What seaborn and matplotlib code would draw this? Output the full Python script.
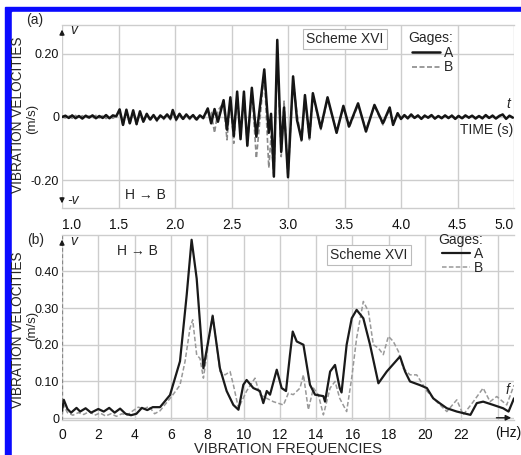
import numpy as np
import pandas as pd
import seaborn as sns
import matplotlib.pyplot as plt
from matplotlib.patches import Rectangle

# === DATA: panel (a), vibration velocities in time (m/s) ===
time_a = [1.00, 1.03, 1.06, 1.09, 1.12, 1.15, 1.18, 1.21, 1.24, 1.27, 1.30, 1.33, 1.36, 1.39, 1.42,
          1.45, 1.48, 1.51, 1.54, 1.57, 1.60, 1.63, 1.66, 1.69, 1.72, 1.75, 1.78, 1.81, 1.84, 1.87,
          1.90, 1.93, 1.96, 1.98, 2.01, 2.04, 2.07, 2.10, 2.13, 2.16, 2.19, 2.22, 2.25, 2.29, 2.32,
          2.35, 2.38, 2.43, 2.46, 2.49, 2.52, 2.55, 2.58, 2.61, 2.64, 2.68, 2.72, 2.79, 2.83, 2.85,
          2.875, 2.905, 2.94, 2.965, 3.00, 3.045, 3.08, 3.12, 3.15, 3.19, 3.22, 3.29, 3.35, 3.43, 3.49,
          3.54, 3.62, 3.69, 3.765, 3.84, 3.90, 3.93, 3.97, 4.00, 4.03, 4.06, 4.09, 4.12, 4.15, 4.18,
          4.21, 4.24, 4.27, 4.30, 4.33, 4.36, 4.39, 4.42, 4.45, 4.48, 4.51, 4.54, 4.57, 4.60, 4.63,
          4.66, 4.69, 4.72, 4.75, 4.78, 4.81, 4.84, 4.87, 4.90, 4.93, 4.96, 4.99]
vel_a_A = [0.000, 0.004, -0.003, 0.005, -0.004, 0.003, -0.005, 0.004, -0.002, 0.005, -0.004, 0.003, -0.003, 0.006, -0.004,
           0.005, 0.002, 0.024, -0.025, 0.023, -0.020, 0.021, -0.022, 0.018, -0.015, 0.010, -0.008, 0.006, -0.010, 0.005,
           -0.004, 0.008, -0.005, 0.022, -0.008, 0.010, -0.006, 0.008, -0.004, 0.006, -0.008, 0.005, -0.003, 0.027, -0.020,
           0.025, -0.015, 0.053, -0.040, 0.062, -0.060, 0.080, -0.070, 0.080, -0.090, 0.092, -0.062, 0.150, -0.050, 0.010,
           -0.188, 0.243, -0.110, 0.030, -0.190, 0.128, -0.010, -0.072, 0.069, -0.065, 0.075, -0.035, 0.062, -0.050, 0.035,
           -0.030, 0.043, -0.046, 0.038, -0.020, 0.030, -0.025, 0.012, -0.006, 0.006, -0.004, 0.008, -0.003, 0.005, -0.006,
           0.004, -0.002, 0.006, -0.005, 0.003, -0.004, 0.005, -0.003, 0.004, -0.006, 0.003, -0.004, 0.005, -0.002, 0.004,
           -0.005, 0.003, -0.004, 0.006, -0.003, 0.004, -0.005, 0.003, 0.008, -0.006, 0.004, -0.002]
vel_a_B = [0.000, -0.003, 0.004, -0.004, 0.005, -0.003, 0.004, -0.005, 0.003, -0.004, 0.005, -0.003, 0.004, -0.005, 0.003,
           -0.004, 0.003, 0.020, -0.028, 0.020, -0.024, 0.018, -0.025, 0.015, -0.018, 0.008, -0.012, 0.004, -0.014, 0.003,
           -0.008, 0.006, -0.009, 0.018, -0.012, 0.007, -0.010, 0.005, -0.008, 0.004, -0.012, 0.003, -0.006, 0.020, 0.015,
           -0.050, 0.020, 0.045, -0.072, 0.055, -0.083, 0.070, -0.060, 0.075, -0.093, 0.085, -0.130, 0.140, -0.160, -0.060,
           -0.193, 0.200, -0.125, 0.050, -0.193, 0.120, 0.010, -0.080, 0.060, -0.072, 0.070, -0.040, 0.055, -0.045, 0.030,
           -0.035, 0.038, -0.040, 0.035, -0.025, 0.025, -0.020, 0.010, -0.008, 0.004, -0.006, 0.005, -0.005, 0.003, -0.004,
           0.006, -0.004, 0.003, -0.006, 0.005, -0.002, 0.003, -0.005, 0.006, -0.003, 0.005, -0.006, 0.003, -0.004, 0.006,
           -0.003, 0.005, -0.006, 0.004, -0.005, 0.006, -0.003, 0.005, 0.006, -0.004, 0.003, -0.004]

# === DATA: panel (b), spectra (m/s) ===
freq_A = [0.0, 0.1, 0.3, 0.5, 0.8, 1.0, 1.3, 1.6, 2.0, 2.3, 2.6, 2.9, 3.2, 3.5, 3.8, 4.1, 4.4, 4.7, 5.0, 5.4,
          5.95, 6.5, 6.87, 7.14, 7.42, 7.79, 8.3, 8.7, 9.07, 9.44, 9.72, 9.99, 10.17, 10.54, 10.9, 11.09,
          11.28, 11.46, 11.83, 12.1, 12.34, 12.56, 12.71, 12.93, 13.3, 13.66, 13.94, 14.4, 14.49, 14.77,
          15.04, 15.3, 15.4, 15.68, 15.96, 16.23, 16.6, 16.97, 17.43, 17.89, 18.62, 18.9, 19.17, 19.72,
          20.1, 20.45, 20.8, 21.2, 21.75, 22.5, 22.85, 23.2, 23.76, 24.3, 24.6, 24.9]
spec_A = [0.020, 0.050, 0.025, 0.015, 0.028, 0.018, 0.027, 0.015, 0.025, 0.018, 0.028, 0.015, 0.026, 0.012,
          0.008, 0.012, 0.028, 0.022, 0.030, 0.030, 0.063, 0.155, 0.336, 0.486, 0.380, 0.136, 0.278, 0.136,
          0.074, 0.036, 0.023, 0.091, 0.104, 0.082, 0.074, 0.041, 0.074, 0.064, 0.132, 0.082, 0.074, 0.173,
          0.236, 0.209, 0.200, 0.091, 0.064, 0.060, 0.045, 0.127, 0.145, 0.082, 0.070, 0.200, 0.272, 0.295,
          0.272, 0.200, 0.095, 0.127, 0.168, 0.127, 0.100, 0.090, 0.082, 0.054, 0.041, 0.027, 0.018, 0.009,
          0.041, 0.045, 0.036, 0.027, 0.018, 0.054]
freq_B = [0.0, 0.1, 0.3, 0.6, 0.9, 1.2, 1.5, 1.8, 2.1, 2.4, 2.7, 3.0, 3.3, 3.6, 3.9, 4.2, 4.5, 4.8, 5.1, 5.4,
          6.1, 6.5, 6.78, 7.05, 7.2, 7.42, 7.6, 7.79, 8.3, 8.7, 8.98, 9.26, 9.44, 9.72, 10.17, 10.63, 10.9,
          11.28, 11.64, 12.2, 12.47, 12.74, 13.11, 13.3, 13.57, 13.85, 14.12, 14.4, 14.77, 15.04, 15.3,
          15.68, 15.96, 16.23, 16.6, 16.88, 17.15, 17.43, 17.7, 17.98, 18.25, 18.53, 18.8, 19.17, 19.54,
          20.1, 20.64, 21.2, 21.75, 22.1, 22.66, 23.2, 23.58, 23.95, 24.5, 24.9]
spec_B = [0.010, 0.035, 0.015, 0.008, 0.015, 0.010, 0.018, 0.008, 0.014, 0.006, 0.012, 0.005, 0.012, 0.008,
          0.020, 0.030, 0.025, 0.032, 0.012, 0.020, 0.063, 0.090, 0.155, 0.245, 0.268, 0.172, 0.163, 0.109,
          0.285, 0.127, 0.118, 0.127, 0.091, 0.027, 0.074, 0.109, 0.064, 0.054, 0.045, 0.036, 0.068, 0.064,
          0.082, 0.118, 0.023, 0.082, 0.064, 0.009, 0.082, 0.100, 0.054, 0.018, 0.110, 0.218, 0.318, 0.291,
          0.200, 0.191, 0.173, 0.223, 0.209, 0.182, 0.136, 0.118, 0.118, 0.074, 0.045, 0.018, 0.050, 0.009,
          0.045, 0.082, 0.045, 0.059, 0.036, 0.090]

W, H = 521, 455


def px(x, y):
    # pixel position -> figure fraction
    return x / W, 1 - y / H


sns.set_theme(style="white")
plt.rcParams['font.family'] = ['Liberation Sans', 'DejaVu Sans']

fig = plt.figure(figsize=(W / 100, H / 100), dpi=100)
fig.patches.append(Rectangle((5 / W, 0), 1, 1 - 7 / H, transform=fig.transFigure, color='#0a0aff', zorder=-10))
fig.patches.append(Rectangle((12 / W, 0), 1, 1 - 12 / H, transform=fig.transFigure, color='white', zorder=-9))

ax1 = fig.add_axes([62 / W, 1 - 208 / H, 452 / W, 183 / H])
ax2 = fig.add_axes([62 / W, 1 - 420 / H, 452 / W, 185 / H])

grid_c = '#cdcdcd'
for ax in (ax1, ax2):
    ax.set_zorder(1)
    ax.patch.set_alpha(0)
    ax.set_axisbelow(True)
    ax.grid(True, color=grid_c, lw=1.0)
    for s in ('left', 'right'):
        ax.spines[s].set_visible(False)
    for s in ('top', 'bottom'):
        ax.spines[s].set_color(grid_c)
        ax.spines[s].set_linewidth(1.0)
    ax.tick_params(length=0, labelsize=10, colors='#111111')
    ax.tick_params(axis='y', labelsize=9, pad=2)

# --- panel (a) ---
sns.lineplot(x=time_a, y=vel_a_A, ax=ax1, color='#151515', lw=1.8, label='A', zorder=3, sort=False)
sns.lineplot(x=time_a, y=vel_a_B, ax=ax1, color='#8a8a8a', lw=1.2, label='B', zorder=2, sort=False,
             linestyle=(0, (3, 1.5)))
ax1.set_xlim(1.0, 5.0)
ax1.set_ylim(-0.287, 0.29)
ax1.set_xticks(np.arange(1.0, 5.01, 0.5))
ax1.set_xticklabels([f"{v:.1f}" for v in np.arange(1.0, 5.01, 0.5)])
ax1.set_yticks([-0.2, 0, 0.2])
ax1.set_yticklabels(['-0.20', '0', '0.20'])
ax1.tick_params(axis='x', pad=7)
xl = ax1.get_xticklabels()
xl[0].set_ha('left')
xl[-1].set_ha('right')
ax1.set_xlabel('')
ax1.set_ylabel('')
ax1.legend(title='Gages:', loc='upper right', bbox_to_anchor=((453 - 62) / 452, 1 - 6 / 183),
           frameon=False, handlelength=2.0, handletextpad=0.3, labelspacing=0.05, borderpad=0,
           borderaxespad=0, alignment='right', fontsize=10, title_fontsize=10)
ax1.annotate('', xy=(0, 0.99), xytext=(0, 0.93), xycoords='axes fraction',
             arrowprops=dict(arrowstyle='-|>', color='k', lw=1, mutation_scale=7))
ax1.annotate('', xy=(0, 0.01), xytext=(0, 0.07), xycoords='axes fraction',
             arrowprops=dict(arrowstyle='-|>', color='k', lw=1, mutation_scale=7))

# --- panel (b) ---
sns.lineplot(x=freq_A, y=spec_A, ax=ax2, color='#1a1a1a', lw=1.6, label='A', zorder=3, sort=False)
sns.lineplot(x=freq_B, y=spec_B, ax=ax2, color='#999999', lw=1.1, label='B', zorder=2, sort=False,
             linestyle=(0, (3, 1.5)))
ax2.set_xlim(0, 24.9)
ax2.set_ylim(-0.005, 0.499)
ax2.set_xticks(np.arange(0, 25, 2))
ax2.set_xticklabels([str(v) for v in range(0, 23, 2)] + [''])
ax2.set_yticks([0, 0.1, 0.2, 0.3, 0.4])
ax2.set_yticklabels(['0', '0.10', '0.20', '0.30', '0.40'])
ax2.tick_params(axis='x', pad=6)
ax2.axvline(0, color='#888888', lw=0.9, ls=(0, (3, 2)), zorder=2)
ax2.text(24.57, -0.068, '(Hz)', transform=ax2.get_xaxis_transform(), ha='center', va='center',
         fontsize=10, color='#111111')
ax2.set_xlabel('VIBRATION FREQUENCIES', fontsize=10.5, labelpad=0)
ax2.set_ylabel('')
ax2.legend(title='Gages:', loc='upper right', bbox_to_anchor=((483 - 62) / 452, 1.01),
           frameon=False, handlelength=2.0, handletextpad=0.3, labelspacing=0.0, borderpad=0,
           borderaxespad=0, alignment='right', fontsize=10, title_fontsize=10)
ax2.annotate('', xy=(0, 0.99), xytext=(0, 0.93), xycoords='axes fraction',
             arrowprops=dict(arrowstyle='-|>', color='k', lw=1, mutation_scale=7))
ax2.annotate('', xy=(1.0, 0.012), xytext=(0.955, 0.012), xycoords='axes fraction',
             arrowprops=dict(arrowstyle='-|>', color='k', lw=1, mutation_scale=8))

# --- texts ---
for yc, yu in ((115, 119), (330, 326)):
    fig.text(*px(18.5, yc), 'VIBRATION VELOCITIES', rotation=90, ha='center', va='center', fontsize=9.8)
    fig.text(*px(32.5, yu), '(m/s)', rotation=90, ha='center', va='center', fontsize=9.5)
fig.text(*px(35, 20), '(a)', ha='center', va='center', fontsize=10)
fig.text(*px(36, 240), '(b)', ha='center', va='center', fontsize=10)
fig.text(*px(70, 30), 'v', ha='left', va='center', fontsize=10, style='italic')
fig.text(*px(67, 200), '-v', ha='left', va='center', fontsize=10, style='italic')
fig.text(*px(70, 241), 'v', ha='left', va='center', fontsize=10, style='italic')
fig.text(*px(513, 130), 'TIME (s)', ha='right', va='center', fontsize=10)
fig.text(*px(508, 104), 't', ha='center', va='center', fontsize=10, style='italic')
fig.text(*px(507, 390), 'f', ha='center', va='center', fontsize=10, style='italic')
fig.text(*px(145, 195), 'H \u2192 B', ha='center', va='center', fontsize=10)
fig.text(*px(137, 251), 'H \u2192 B', ha='center', va='center', fontsize=10)
box = dict(boxstyle='square,pad=0.25', fc='white', ec='#bbbbbb', lw=0.8)
fig.text(*px(345, 39), 'Scheme XVI', ha='center', va='center', fontsize=10, bbox=box)
fig.text(*px(369, 255), 'Scheme XVI', ha='center', va='center', fontsize=10, bbox=box)

fig.savefig('out.png', dpi=100)
